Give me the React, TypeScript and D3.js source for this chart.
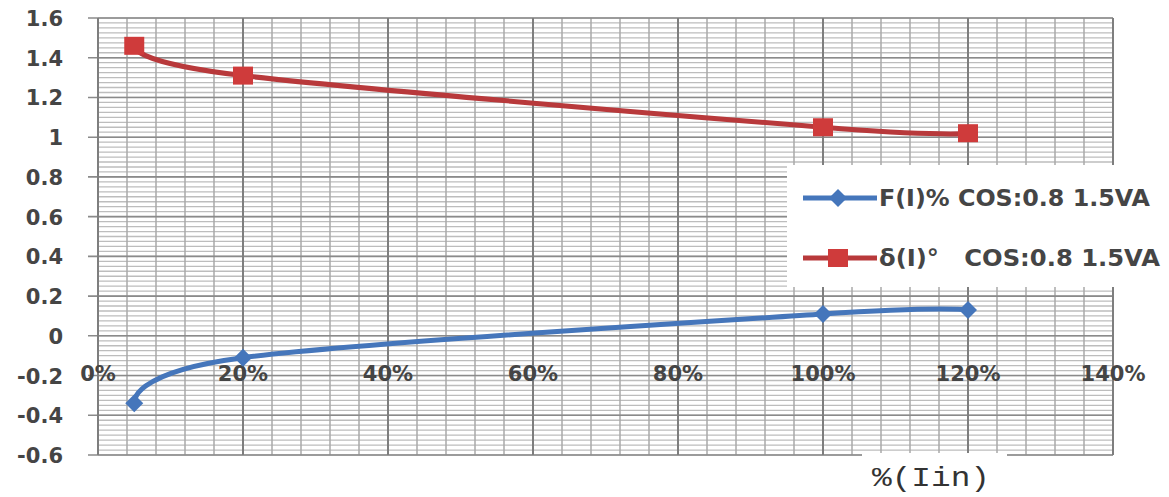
import React from "react";
import * as d3 from "d3";

const xTickValues = [0, 20, 40, 60, 80, 100, 120, 140];
const xTickLabels = ["0%", "20%", "40%", "60%", "80%", "100%", "120%", "140%"];
const yTickValues = [-0.6, -0.4, -0.2, 0, 0.2, 0.4, 0.6, 0.8, 1, 1.2, 1.4, 1.6];
const yTickLabels = ["-0.6", "-0.4", "-0.2", "0", "0.2", "0.4", "0.6", "0.8", "1", "1.2", "1.4", "1.6"];

const loadPct = [5, 20, 100, 120];
const ratioError = [-0.34, -0.11, 0.11, 0.13];
const phaseError = [1.46, 1.31, 1.05, 1.02];

const seriesNames = ["F(I)% COS:0.8 1.5VA", "\u03b4(I)\u00b0   COS:0.8 1.5VA"];
const axisTitle = "%(Iin)";

const W = 1169;
const H = 497;
const BLUE = "#4576bb";
const RED = "#b8393b";
const RED_MARK = "#cf3b3b";

export default function App() {
  const x = d3.scaleLinear().domain([0, 140]).range([98, 1113]);
  const y = d3.scaleLinear().domain([-0.6, 1.6]).range([455, 18]);

  const minorX = d3.range(0, 140.001, 4);
  const minorY = d3.range(-0.6, 1.6001, 0.025);

  const line = d3
    .line<[number, number]>()
    .x((d) => x(d[0]))
    .y((d) => y(d[1]))
    .curve(d3.curveCatmullRom.alpha(0));

  const blueData: [number, number][] = loadPct.map((p, i) => [p, ratioError[i]]);
  const redData: [number, number][] = loadPct.map((p, i) => [p, phaseError[i]]);

  const labelFont = "DejaVu Sans, Verdana, sans-serif";

  return (
    <svg
      width={W}
      height={H}
      style={{ position: "absolute", left: 0, top: 0, background: "#fff" }}
    >
      <rect x={0} y={0} width={W} height={H} fill="#fff" />
      {minorY.map((v, i) => (
        <line
          key={"my" + i}
          x1={x(0)}
          x2={x(140)}
          y1={y(v)}
          y2={y(v)}
          stroke="#bdbdbd"
          strokeWidth={1.3}
        />
      ))}
      {minorX.map((v, i) => (
        <line
          key={"mx" + i}
          x1={x(v)}
          x2={x(v)}
          y1={y(1.6)}
          y2={y(-0.6)}
          stroke="#a8a8a8"
          strokeWidth={1.5}
        />
      ))}
      {yTickValues.map((v, i) => (
        <line
          key={"Y" + i}
          x1={x(0) - 10}
          x2={x(140)}
          y1={y(v)}
          y2={y(v)}
          stroke="#8a8a8a"
          strokeWidth={1.6}
        />
      ))}
      {xTickValues.map((v, i) => (
        <line
          key={"X" + i}
          x1={x(v)}
          x2={x(v)}
          y1={y(1.6)}
          y2={y(-0.6)}
          stroke="#7e7e7e"
          strokeWidth={2}
        />
      ))}
      {yTickValues.map((v, i) => (
        <text
          key={"yl" + i}
          x={63}
          y={y(v) + 8}
          textAnchor="end"
          fontFamily={labelFont}
          fontWeight="bold"
          fontSize={21}
          fill="#454545"
        >
          {yTickLabels[i]}
        </text>
      ))}
      {xTickValues.map((v, i) => (
        <text
          key={"xl" + i}
          x={x(v)}
          y={381}
          textAnchor="middle"
          fontFamily={labelFont}
          fontWeight="bold"
          fontSize={21}
          fill="#454545"
        >
          {xTickLabels[i]}
        </text>
      ))}
      <path d={line(redData) || ""} fill="none" stroke={RED} strokeWidth={5} />
      <path d={line(blueData) || ""} fill="none" stroke={BLUE} strokeWidth={5} />
      {redData.map((d, i) => (
        <rect
          key={"rm" + i}
          x={x(d[0]) - 10}
          y={y(d[1]) - 9}
          width={20}
          height={18}
          fill={RED_MARK}
        />
      ))}
      {blueData.map((d, i) => (
        <path
          key={"bm" + i}
          d={`M${x(d[0])},${y(d[1]) - 9}L${x(d[0]) + 9},${y(d[1])}L${x(d[0])},${y(d[1]) + 9}L${x(d[0]) - 9},${y(d[1])}Z`}
          fill={BLUE}
        />
      ))}
      <rect x={787} y={165} width={W - 787} height={122} fill="#fff" />
      <line x1={803} x2={877} y1={198} y2={198} stroke={BLUE} strokeWidth={5} />
      <path d="M838,189L847,198L838,207L829,198Z" fill={BLUE} />
      <text
        x={879}
        y={206}
        fontFamily={labelFont}
        fontWeight="bold"
        fontSize={23}
        fill="#454545"
        textLength={271}
        lengthAdjust="spacingAndGlyphs"
        style={{ whiteSpace: "pre" }}
      >
        {seriesNames[0]}
      </text>
      <line x1={803} x2={877} y1={258} y2={258} stroke={RED} strokeWidth={5} />
      <rect x={828} y={249} width={20} height={18} fill={RED_MARK} />
      <text
        x={879}
        y={266}
        fontFamily={labelFont}
        fontWeight="bold"
        fontSize={23}
        fill="#454545"
        textLength={281}
        lengthAdjust="spacingAndGlyphs"
        style={{ whiteSpace: "pre" }}
      >
        {seriesNames[1]}
      </text>
      <rect x={862} y={453} width={145} height={H - 453} fill="#fff" />
      <text
        x={872}
        y={486}
        fontFamily="Liberation Mono, DejaVu Sans Mono, monospace"
        fontSize={28}
        fill="#333"
        textLength={118}
        lengthAdjust="spacingAndGlyphs"
      >
        {axisTitle}
      </text>
    </svg>
  );
}
